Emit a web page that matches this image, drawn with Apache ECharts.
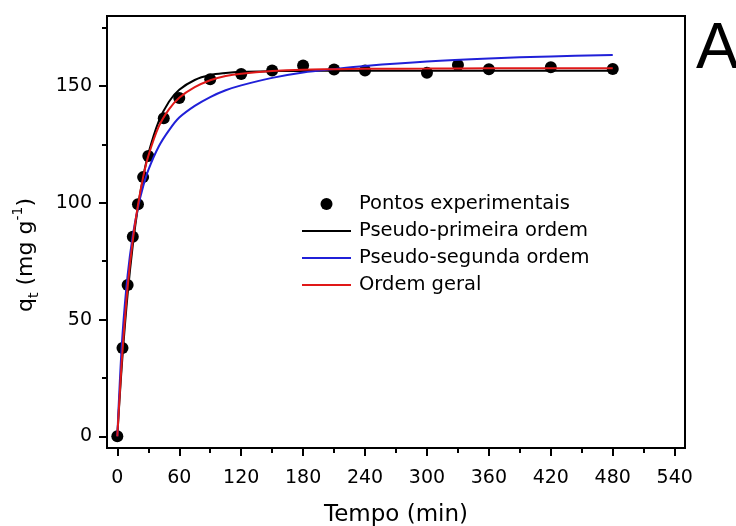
<!DOCTYPE html>
<html>
<head>
<meta charset="utf-8">
<script src="https://cdn.jsdelivr.net/npm/echarts@6/dist/echarts.min.js"></script>
<style>
  html, body { margin: 0; padding: 0; background: #fff; }
  #chart { width: 736px; height: 526px; }
</style>
</head>
<body>
<div id="chart"></div>
<script>
// Experimental adsorption kinetics: time (min) and q_t (mg/g)
const expTime = [0, 5, 10, 15, 20, 25, 30, 45, 60, 90, 120, 150, 180, 210, 240, 300, 330, 360, 420, 480];
const expQ    = [0, 37.8, 64.8, 85.5, 99.4, 111.0, 120.0, 136.2, 144.9, 152.9, 155.2, 156.7, 158.8, 157.1, 156.7, 155.7, 159.0, 157.2, 158.1, 157.3];

// Fitted model curves, sampled on a common time grid
const fitTime = [0, 2, 5, 10, 15, 20, 25, 30, 40, 50, 60, 75, 90, 105, 120, 150, 180, 210, 240, 300, 360, 420, 480];
const pfoQ = [0, 14.7, 34.3, 61.0, 81.9, 98.3, 110.9, 121.0, 134.8, 143.3, 148.4, 152.6, 154.7, 155.6, 156.1, 156.4, 156.5, 156.6, 156.6, 156.6, 156.6, 156.6, 156.6];
const psoQ = [0, 19.5, 43.5, 69.0, 86.0, 98.0, 107.0, 114.0, 124.0, 131.0, 136.5, 141.5, 145.3, 148.2, 150.3, 153.5, 155.8, 157.3, 158.6, 160.5, 161.8, 162.7, 163.3];
const genQ = [0, 15.5, 36.5, 64.0, 84.0, 99.0, 111.0, 120.0, 132.5, 140.0, 145.0, 149.5, 152.5, 154.3, 155.3, 156.4, 157.0, 157.2, 157.4, 157.5, 157.6, 157.6, 157.6];

// Axis tick positions
const xMajor = [0, 60, 120, 180, 240, 300, 360, 420, 480, 540];
const xMinor = [30, 90, 150, 210, 270, 330, 390, 450, 510];
const yMajor = [0, 50, 100, 150];
const yMinor = [25, 75, 125, 175];

const seriesNames = ['Pontos experimentais', 'Pseudo-primeira ordem', 'Pseudo-segunda ordem', 'Ordem geral'];

const pairs = (xs, ys) => xs.map((x, i) => [x, ys[i]]);

const FONT = 'DejaVu Sans';
const chart = echarts.init(document.getElementById('chart'), null, { renderer: 'canvas' });

const lineSeries = (name, ys, color) => ({
  name,
  type: 'line',
  xAxisIndex: 0,
  yAxisIndex: 0,
  data: pairs(fitTime, ys),
  smooth: 0.35,
  symbol: 'none',
  lineStyle: { color, width: 2 },
  itemStyle: { color },
  z: 3
});

const commonAxis = {
  axisLine: { onZero: false, lineStyle: { color: '#000', width: 2 } },
  splitLine: { show: false }
};

chart.setOption({
  animation: false,
  backgroundColor: '#fff',
  grid: {
    left: 107, right: 51, top: 16, bottom: 78,
    outerBoundsMode: 'none',
    containLabel: false,
    show: true, borderColor: '#000', borderWidth: 2, backgroundColor: 'transparent'
  },
  legend: {
    orient: 'vertical',
    left: 296, top: 189,
    padding: 5,
    itemWidth: 49, itemHeight: 12, itemGap: 7,
    textStyle: { fontFamily: FONT, fontSize: 19.5, color: '#000', lineHeight: 20, padding: [0, 0, 0, 3] },
    data: [
      { name: seriesNames[0] },
      { name: seriesNames[1], itemStyle: { opacity: 0 } },
      { name: seriesNames[2], itemStyle: { opacity: 0 } },
      { name: seriesNames[3], itemStyle: { opacity: 0 } }
    ]
  },
  xAxis: [
    Object.assign({}, commonAxis, {
      type: 'value', min: -10, max: 550,
      name: 'Tempo (min)', nameLocation: 'middle', nameGap: 56,
      nameTextStyle: { fontFamily: FONT, fontSize: 23, color: '#000' },
      axisTick: { show: true, inside: false, length: 8, lineStyle: { width: 2, color: '#000' }, customValues: xMajor },
      axisLabel: { fontFamily: FONT, fontSize: 19, color: '#000', margin: 21, customValues: xMajor }
    }),
    {
      type: 'value', min: -10, max: 550, position: 'bottom',
      axisLine: { show: false, onZero: false },
      axisTick: { show: true, length: 5, lineStyle: { width: 2, color: '#000' }, customValues: xMinor },
      axisLabel: { show: false },
      splitLine: { show: false }
    }
  ],
  yAxis: [
    Object.assign({}, commonAxis, {
      type: 'value', min: -5, max: 180,
      axisTick: { show: true, inside: false, length: 8, lineStyle: { width: 2, color: '#000' }, customValues: yMajor },
      axisLabel: { fontFamily: FONT, fontSize: 19, color: '#000', margin: 15, customValues: yMajor }
    }),
    {
      type: 'value', min: -5, max: 180, position: 'left',
      axisLine: { show: false, onZero: false },
      axisTick: { show: true, length: 5, lineStyle: { width: 2, color: '#000' }, customValues: yMinor },
      axisLabel: { show: false },
      splitLine: { show: false }
    }
  ],
  graphic: [
    {
      type: 'text', x: 26, y: 255, rotation: Math.PI / 2,
      style: {
        text: '{m|q}{sub|t}{m| (mg g}{sup|-1}{m|)}',
        align: 'center', verticalAlign: 'middle',
        fill: '#000',
        rich: {
          m: { fontFamily: FONT, fontSize: 22, lineHeight: 30, fill: '#000' },
          sub: { fontFamily: FONT, fontSize: 14, lineHeight: 14, verticalAlign: 'bottom', fill: '#000' },
          sup: { fontFamily: FONT, fontSize: 14, lineHeight: 14, verticalAlign: 'top', fill: '#000' }
        }
      }
    },
    {
      type: 'text', left: 696, top: 18,
      style: { text: 'A', fontFamily: 'Liberation Sans', fontSize: 64, fill: '#000' }
    }
  ],
  series: [
    {
      name: seriesNames[0],
      type: 'scatter',
      xAxisIndex: 0, yAxisIndex: 0,
      data: pairs(expTime, expQ),
      symbol: 'circle', symbolSize: 12,
      itemStyle: { color: '#000', opacity: 1 },
      z: 2
    },
    lineSeries(seriesNames[1], pfoQ, '#000000'),
    lineSeries(seriesNames[2], psoQ, '#2020d8'),
    lineSeries(seriesNames[3], genQ, '#e01818')
  ]
});
</script>
</body>
</html>
